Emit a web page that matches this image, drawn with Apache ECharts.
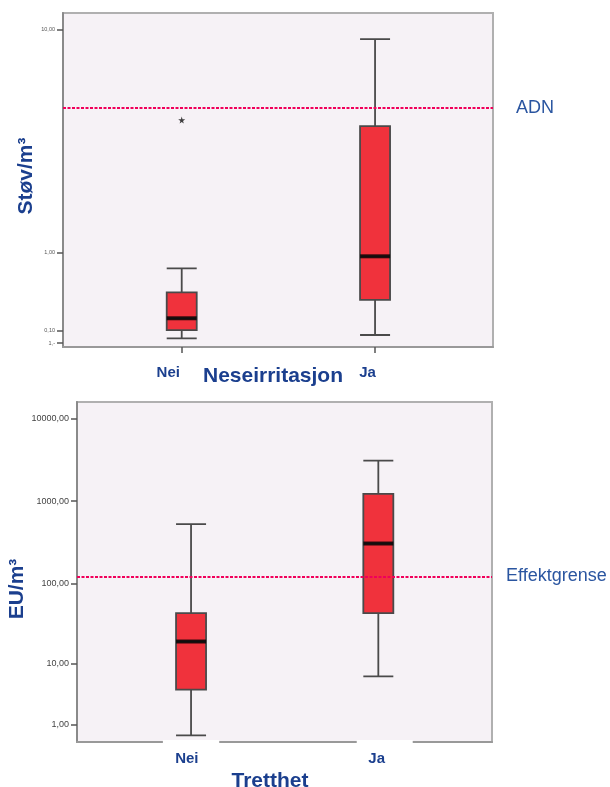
<!DOCTYPE html>
<html>
<head>
<meta charset="utf-8">
<script src="https://cdn.jsdelivr.net/npm/echarts@6/dist/echarts.min.js"></script>
<style>
html,body{margin:0;padding:0;background:#fff;}
#c{width:610px;height:787px;}
</style>
</head>
<body>
<div id="c"></div>
<script>
// ---- data ----
const categories = ['Nei', 'Ja'];
// top chart: Støv/m3  [min, Q1, median, Q3, max]
const dustNei = [0.036, 0.104, 0.208, 0.473, 0.77];
const dustJa  = [0.063, 0.39, 0.94, 4.25, 9.2];
const dustOutliersNei = [4.5];
const adnLimit = 5.0;
const dustTickValues = [0, 0.1, 1, 10];
const dustTickLabels = ['1,-', '0,10', '1,00', '10,00'];
// bottom chart: EU/m3
const endoNei = [0.49, 4.3, 19.2, 43.5, 526];
const endoJa  = [6.65, 43.5, 307, 1222, 3083];
const effektLimit = 122;
const endoTickValues = [1, 10, 100, 1000, 10000];
const endoTickLabels = ['1,00', '10,00', '100,00', '1000,00', '10000,00'];

// ---- helpers ----
const tf = v => Math.log10(v + 1);   // SPSS-like log(x+1) scale
const FONT = "'Liberation Sans', Arial, sans-serif";
const BLUE = '#1b3f8e';
const LBLUE = '#2a55a0';
const boxRow = (i, arr) => [i].concat(arr.map(tf));
const labelFrom = (vals, labels) => (v) => {
  for (let i = 0; i < vals.length; i++) if (Math.abs(tf(vals[i]) - v) < 1e-6) return labels[i];
  return '';
};

const boxStyle = { color: '#f0323c', borderColor: '#4a4a4a', borderWidth: 1.8 };
const refLine = (val, text, dist) => ({
  silent: true, symbol: 'none',
  lineStyle: { color: '#f0005a', type: [3, 1.5], width: 2 },
  label: { show: true, position: 'end', formatter: text, color: LBLUE, fontSize: 18, fontFamily: FONT, distance: dist },
  data: [{ yAxis: tf(val) }]
});
const starPath = 'path://M50,0 L61,35 L98,35 L68,57 L79,91 L50,70 L21,91 L32,57 L2,35 L39,35 Z';

const chart = echarts.init(document.getElementById('c'), null, { renderer: 'canvas' });
chart.setOption({
  animation: false,
  backgroundColor: '#fff',
  grid: [
    { left: 63, right: 117, top: 13, bottom: 440, outerBoundsMode: 'none', containLabel: false, show: true, backgroundColor: '#f6f2f6', borderColor: '#b0b0b0', borderWidth: 2 },
    { left: 77, right: 118, top: 402, bottom: 45, outerBoundsMode: 'none', containLabel: false, show: true, backgroundColor: '#f6f2f6', borderColor: '#b0b0b0', borderWidth: 2 }
  ],
  xAxis: [
    {
      gridIndex: 0, type: 'value', min: -0.614, max: 1.61, z: 3,
      name: 'Neseirritasjon', nameLocation: 'middle', nameGap: 19, nameMoveOverlap: false,
      nameTextStyle: { fontSize: 21, fontWeight: 'bold', color: BLUE, fontFamily: FONT, padding: [0, 10, 0, 0] },
      axisLine: { show: true, onZero: false, lineStyle: { color: '#999', width: 2 } },
      axisTick: { show: true, customValues: [0, 1], length: 6, lineStyle: { color: '#555', width: 1.5 } },
      splitLine: { show: false },
      axisLabel: {
        customValues: [0, 1], margin: 18,
        formatter: v => (v < 0.5 ? '{n|' + categories[0] + '}' : '{j|' + categories[1] + '}'),
        rich: {
          n: { fontSize: 15, fontWeight: 'bold', color: BLUE, fontFamily: FONT, padding: [0, 27, 0, 0] },
          j: { fontSize: 15, fontWeight: 'bold', color: BLUE, fontFamily: FONT, padding: [0, 15, 0, 0] }
        }
      }
    },
    {
      gridIndex: 1, type: 'value', min: -0.609, max: 1.607, z: 3,
      name: 'Tretthet', nameLocation: 'middle', nameGap: 29, nameMoveOverlap: false,
      nameTextStyle: { fontSize: 21, fontWeight: 'bold', color: BLUE, fontFamily: FONT, padding: [0, 29, 0, 0] },
      axisLine: { show: true, onZero: false, lineStyle: { color: '#999', width: 2 } },
      axisTick: { show: false },
      splitLine: { show: false },
      axisLabel: {
        customValues: [0, 1], margin: -2,
        formatter: v => (v < 0.5 ? '{n|' + categories[0] + '}' : '{s| }{j|' + categories[1] + '}'),
        rich: {
          n: { fontSize: 15, fontWeight: 'bold', color: BLUE, fontFamily: FONT, backgroundColor: '#fff', padding: [11.5, 20.7, 2, 12.3] },
          j: { fontSize: 15, fontWeight: 'bold', color: BLUE, fontFamily: FONT, backgroundColor: '#fff', padding: [11.5, 27.7, 2, 11.6] },
          s: { width: 12.8, fontSize: 15 }
        }
      }
    }
  ],
  yAxis: [
    {
      gridIndex: 0, type: 'value', min: -0.0133, max: 1.0956,
      name: 'Støv/m³', nameLocation: 'middle', nameGap: 26, nameMoveOverlap: false,
      nameTextStyle: { fontSize: 21, fontWeight: 'bold', color: BLUE, fontFamily: FONT, padding: [0, 0, 0, 8] },
      axisLine: { show: true, onZero: false, lineStyle: { color: '#8a8a8a', width: 2 } },
      axisTick: { show: true, customValues: dustTickValues.map(tf), length: 6, lineStyle: { color: '#555', width: 1.5 } },
      splitLine: { show: false },
      axisLabel: { customValues: dustTickValues.map(tf), formatter: labelFrom(dustTickValues, dustTickLabels), fontSize: 5.5, color: '#555', fontFamily: FONT, margin: 8 }
    },
    {
      gridIndex: 1, type: 'value', min: 0.0923, max: 4.197,
      name: 'EU/m³', nameLocation: 'middle', nameGap: 49, nameMoveOverlap: false,
      nameTextStyle: { fontSize: 21, fontWeight: 'bold', color: BLUE, fontFamily: FONT, padding: [0, 34, 0, 0] },
      axisLine: { show: true, onZero: false, lineStyle: { color: '#8a8a8a', width: 2 } },
      axisTick: { show: true, customValues: endoTickValues.map(tf), length: 6, lineStyle: { color: '#555', width: 1.5 } },
      splitLine: { show: false },
      axisLabel: { customValues: endoTickValues.map(tf), formatter: labelFrom(endoTickValues, endoTickLabels), fontSize: 9, color: '#444', fontFamily: FONT, margin: 8 }
    }
  ],
  series: [
    {
      type: 'boxplot', xAxisIndex: 0, yAxisIndex: 0, boxWidth: [30, 30],
      itemStyle: boxStyle,
      data: [boxRow(0, dustNei), boxRow(1, dustJa)],
      markLine: refLine(adnLimit, 'ADN', 23)
    },
    {
      type: 'scatter', xAxisIndex: 0, yAxisIndex: 0, symbol: 'rect', symbolSize: [30, 4], z: 4,
      itemStyle: { color: '#000' },
      data: [[0, tf(dustNei[2])], [1, tf(dustJa[2])]]
    },
    {
      type: 'scatter', xAxisIndex: 0, yAxisIndex: 0, symbol: starPath, symbolSize: 7, z: 4,
      itemStyle: { color: '#111' },
      data: dustOutliersNei.map(v => [0, tf(v)])
    },
    {
      type: 'boxplot', xAxisIndex: 1, yAxisIndex: 1, boxWidth: [30, 30],
      itemStyle: boxStyle,
      data: [boxRow(0, endoNei), boxRow(1, endoJa)],
      markLine: refLine(effektLimit, 'Effektgrense', 14)
    },
    {
      type: 'scatter', xAxisIndex: 1, yAxisIndex: 1, symbol: 'rect', symbolSize: [30, 4], z: 4,
      itemStyle: { color: '#000' },
      data: [[0, tf(endoNei[2])], [1, tf(endoJa[2])]]
    }
  ]
});
</script>
</body>
</html>
